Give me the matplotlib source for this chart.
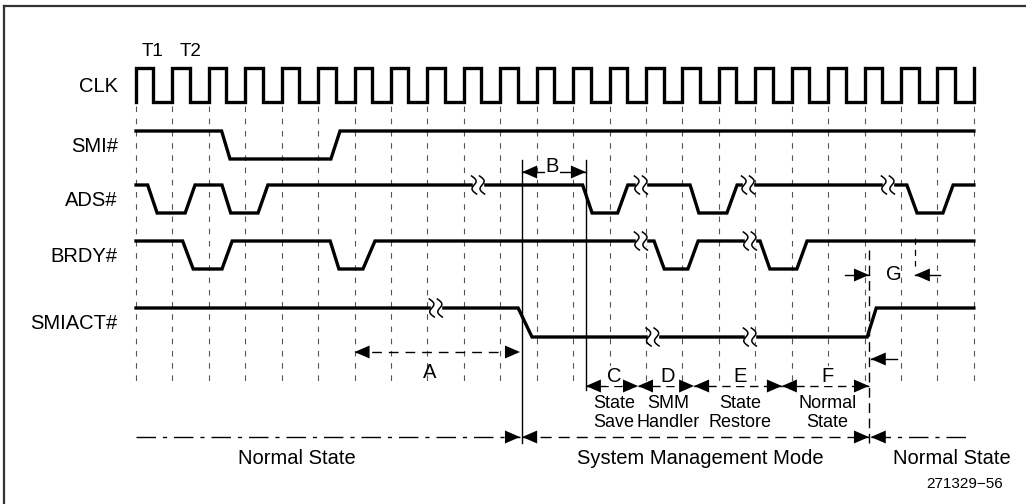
import numpy as np
import matplotlib.pyplot as plt
from matplotlib.patches import Polygon, Rectangle

plt.rcParams['font.family'] = ['Liberation Sans', 'DejaVu Sans']

# clock: rising edges (in clock cycles) and high fraction
clk_rise = [0, 1, 2, 3, 4, 5, 6, 7, 8, 9, 10, 11, 12, 13, 14, 15, 16, 17, 18, 19, 20, 21, 22]
clk_end = 23
clk_duty = 0.48

# signals: transition times (clock cycles) and levels (1 = high, 0 = low)
smi_t = [0, 2.35, 2.58, 5.35, 5.60, 23]
smi_lv = [1, 1, 0, 0, 1, 1]
smi_breaks = []

ads_t = [0, 0.32, 0.58, 1.35, 1.62, 2.36, 2.60, 3.35, 3.62, 12.26, 12.52, 13.22, 13.50,
         15.21, 15.45, 16.22, 16.50, 21.16, 21.44, 22.15, 22.43, 23]
ads_lv = [1, 1, 0, 0, 1, 1, 0, 0, 1, 1, 0, 0, 1, 1, 0, 0, 1, 1, 0, 0, 1, 1]
ads_breaks = [9.39, 13.86, 16.80, 20.64]

brdy_t = [0, 1.28, 1.57, 2.36, 2.64, 5.33, 5.57, 6.23, 6.56, 14.22, 14.50, 15.15, 15.43,
          17.13, 17.40, 18.14, 18.42, 23]
brdy_lv = [1, 1, 0, 0, 1, 1, 0, 0, 1, 1, 0, 0, 1, 1, 0, 0, 1, 1]
brdy_breaks = [13.86, 16.85]

smiact_t = [0, 10.49, 10.87, 20.07, 20.32, 23]
smiact_lv = [1, 1, 0, 0, 1, 1]
smiact_breaks = [8.23, 14.18, 16.85]

# interval markers (clock cycles)
a_span = [6.0, 10.54]
b_span = [10.60, 12.35]
phase_names = ['C', 'D', 'E', 'F']
phase_bounds = [12.35, 13.78, 15.32, 17.73, 20.12]
phase_text = ['State\nSave', 'SMM\nHandler', 'State\nRestore', 'Normal\nState']
mode_names = ['Normal State', 'System Management Mode', 'Normal State']
mode_bounds = [0, 10.54, 10.60, 20.12, 20.17, 22.8]

# ---- layout (pixels) ----
X0, PER = 136.0, 36.43
fig = plt.figure(figsize=(10.26, 5.04), dpi=100)
ax = fig.add_axes([0, 0, 1, 1])
ax.set_xlim(-X0 / PER, (1026 - X0) / PER)
ax.set_ylim(504, 0)
ax.axis('off')

px = 1.0 / PER  # one pixel in clock units
LW = 2.4
K = 'black'

rows = {'CLK': (68, 102), 'SMI#': (131, 159), 'ADS#': (185, 213),
        'BRDY#': (241, 269), 'SMIACT#': (308, 337)}


def lev(name, v):
    hi, lo = rows[name]
    return [hi if a else lo for a in v]


def squiggle(t, y):
    ax.add_patch(Rectangle((t - 5 * px, y - 4), 10 * px, 8, color='white', zorder=4))
    s = np.linspace(-1, 1, 40)
    for off in (-4, 4):
        xs = t + (off + 2.5 * s - 3.2 * np.sin(np.pi * s)) * px
        ax.plot(xs, y + 9 * s, color=K, lw=1.1, zorder=5)


def head(t, y, d, size=15, h=6.5):
    # filled arrowhead with tip at t, pointing d (+1 right, -1 left)
    ax.add_patch(Polygon([(t, y), (t - d * size * px, y - h), (t - d * size * px, y + h)],
                         closed=True, color=K, zorder=6, lw=0))


# frame (top and left only)
ax.plot([4 * px - X0 / PER, (1026 - X0) / PER], [6, 6], color='#333333', lw=1.6)
ax.plot([4 * px - X0 / PER] * 2, [6, 504], color='#333333', lw=1.6)

# clock grid
for k in clk_rise + [clk_end]:
    ax.plot([k, k], [106, 381], color='#555555', lw=0.8, ls=(0, (5, 6)), zorder=1)

# clock
hi, lo = rows['CLK']
cx, cy = [], []
for k in clk_rise:
    cx += [k, k, k + clk_duty, k + clk_duty]
    cy += [lo, hi, hi, lo]
cx += [clk_end, clk_end]
cy += [lo, hi]
ax.plot(cx, cy, color=K, lw=LW, solid_joinstyle='miter', zorder=3)

for name, t, v, br in [('SMI#', smi_t, smi_lv, smi_breaks),
                       ('ADS#', ads_t, ads_lv, ads_breaks),
                       ('BRDY#', brdy_t, brdy_lv, brdy_breaks),
                       ('SMIACT#', smiact_t, smiact_lv, smiact_breaks)]:
    ax.plot(t, lev(name, v), color=K, lw=LW, solid_joinstyle='miter', zorder=3)
    for b in br:
        squiggle(b, rows[name][0] if np.interp(b, t, v) > 0.5 else rows[name][1])

for name, (hi, lo) in rows.items():
    ax.text(-0.5, (hi + lo) / 2 + 1, name, ha='right', va='center', fontsize=14.5)
ax.text(0.45, 52, 'T1', ha='center', va='center', fontsize=13.5)
ax.text(1.5, 52, 'T2', ha='center', va='center', fontsize=13.5)

# extra vertical markers
ax.plot([b_span[0]] * 2, [160, 443], color=K, lw=1.0, zorder=2)
ax.plot([b_span[1]] * 2, [160, 390], color=K, lw=1.0, zorder=2)
ax.plot([phase_bounds[-1]] * 2, [250, 443], color=K, lw=1.0, ls=(0, (7, 4)), zorder=2)
ax.plot([21.38] * 2, [238, 266], color=K, lw=0.9, ls=(0, (5, 4)), zorder=2)

# A
y = 352
ax.plot(a_span, [y, y], color=K, lw=1.0, ls=(0, (7, 5)))
head(a_span[0], y, -1)
head(a_span[1], y, 1)
ax.text(np.mean(a_span) - 0.2, y + 21, 'A', ha='center', va='center', fontsize=14.5)

# B
y = 172
ax.plot(b_span, [y, y], color=K, lw=1.0)
head(b_span[0], y, -1)
head(b_span[1], y, 1)
ax.text(np.mean(b_span) - 0.05, y - 6, 'B', ha='center', va='center', fontsize=14.5,
        bbox=dict(facecolor='white', edgecolor='none', pad=0.5))

# C..F
y = 386
for i, nm in enumerate(phase_names):
    l, r = phase_bounds[i], phase_bounds[i + 1]
    ax.plot([l, r], [y, y], color=K, lw=1.0, ls=(0, (6, 4)))
    head(l, y, -1)
    head(r, y, 1)
    ax.text((l + r) / 2 + 0.05, y - 10, nm, ha='center', va='center', fontsize=14.5,
            bbox=dict(facecolor='white', edgecolor='none', pad=0.3))
    ax.text((l + r) / 2 + 0.05, y + 27, phase_text[i], ha='center', va='center',
            fontsize=13, linespacing=1.2, family=['Liberation Sans Narrow', 'Liberation Sans'])

# G
y = 275
ax.plot([phase_bounds[-1] - 24 * px, phase_bounds[-1]], [y, y], color=K, lw=1.0)
head(phase_bounds[-1], y, 1)
ax.text(20.8, y, 'G', ha='center', va='center', fontsize=14.5)
ax.plot([21.38, 22.07], [y, y], color=K, lw=1.0)
head(21.38, y, -1)
y = 359
ax.plot([20.17, 20.9], [y, y], color=K, lw=1.0)
head(20.17, y, -1)

# modes
y = 437
ax.plot(mode_bounds[0:2], [y, y], color=K, lw=1.0, ls=(0, (14, 5, 3, 5)))
head(mode_bounds[1], y, 1)
ax.plot(mode_bounds[2:4], [y, y], color=K, lw=1.0, ls=(0, (8, 5)))
head(mode_bounds[2], y, -1)
head(mode_bounds[3], y, 1)
ax.plot(mode_bounds[4:6], [y, y], color=K, lw=1.0, ls=(0, (14, 5, 3, 5)))
head(mode_bounds[4], y, -1)
ax.text(4.42, 458, mode_names[0], ha='center', va='center', fontsize=14.5)
ax.text(15.49, 458, mode_names[1], ha='center', va='center', fontsize=14.5)
ax.text(22.4, 458, mode_names[2], ha='center', va='center', fontsize=14.5)

ax.text(22.74, 484, '271329\u221256', ha='center', va='center', fontsize=11)

fig.savefig('out.png', dpi=100)
